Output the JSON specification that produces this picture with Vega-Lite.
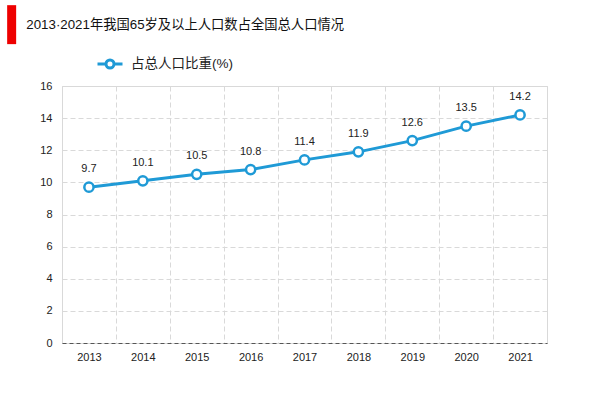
{
  "$schema": "https://vega.github.io/schema/vega-lite/v6.json",
  "width": 485,
  "height": 257,
  "autosize": {"type": "none"},
  "padding": {"left": 62, "top": 86, "right": 53, "bottom": 50},
  "background": "white",
  "config": {
    "font": "Liberation Sans, Noto Sans CJK SC",
    "view": {"stroke": "#d9d9d9", "strokeWidth": 1}
  },
  "datasets": {
    "main": [
      {"year": "2013", "v": 9.7, "series": "占总人口比重(%)"},
      {"year": "2014", "v": 10.1, "series": "占总人口比重(%)"},
      {"year": "2015", "v": 10.5, "series": "占总人口比重(%)"},
      {"year": "2016", "v": 10.8, "series": "占总人口比重(%)"},
      {"year": "2017", "v": 11.4, "series": "占总人口比重(%)"},
      {"year": "2018", "v": 11.9, "series": "占总人口比重(%)"},
      {"year": "2019", "v": 12.6, "series": "占总人口比重(%)"},
      {"year": "2020", "v": 13.5, "series": "占总人口比重(%)"},
      {"year": "2021", "v": 14.2, "series": "占总人口比重(%)"}
    ],
    "heading": [{"t": "2013·2021年我国65岁及以上人口数占全国总人口情况"}]
  },
  "layer": [
    {
      "data": {"name": "heading"},
      "mark": {"type": "point", "filled": true, "color": "#ee0000", "opacity": 0},
      "encoding": {
        "shape": {
          "field": "t",
          "type": "nominal",
          "scale": {"range": ["M-1,-4.33H1V4.33H-1Z"]},
          "legend": {
            "title": null,
            "orient": "none",
            "legendX": -57,
            "legendY": -68,
            "symbolSize": 81,
            "symbolFillColor": "#ee0000",
            "symbolStrokeColor": "#ee0000",
            "symbolStrokeWidth": 0,
            "symbolOpacity": 1,
            "labelOffset": 8,
            "labelFontSize": 13.3,
            "labelColor": "#111",
            "labelLimit": 500,
            "padding": 0,
            "encode": {
              "symbols": {
                "update": {
                  "fill": {"value": "#ee0000"},
                  "stroke": {"value": "#ee0000"},
                  "strokeWidth": {"value": 0},
                  "opacity": {"value": 1},
                  "fillOpacity": {"value": 1}
                }
              }
            }
          }
        }
      }
    },
    {
      "data": {"name": "main"},
      "encoding": {
        "x": {
          "field": "year",
          "type": "ordinal",
          "scale": {"paddingInner": 0, "paddingOuter": 0},
          "axis": {
            "title": null,
            "labelAngle": 0,
            "ticks": false,
            "tickBand": "extent",
            "labelPadding": 8,
            "labelFontSize": 11,
            "labelColor": "#222",
            "domainColor": "#555",
            "domainDash": [4, 3],
            "grid": true,
            "gridDash": [5, 3],
            "gridColor": "#d9d9d9"
          }
        },
        "y": {
          "field": "v",
          "type": "quantitative",
          "scale": {"domain": [0, 16], "nice": false},
          "axis": {
            "title": null,
            "values": [0, 2, 4, 6, 8, 10, 12, 14, 16],
            "tickCount": 12,
            "labelOverlap": false,
            "ticks": false,
            "domain": false,
            "labelPadding": 10,
            "labelFontSize": 11,
            "labelColor": "#222",
            "gridDash": [5, 3],
            "gridColor": "#d9d9d9"
          }
        }
      },
      "layer": [
        {
          "mark": {"type": "line", "color": "#1f9ad6", "strokeWidth": 3},
          "encoding": {
            "color": {
              "field": "series",
              "type": "nominal",
              "scale": {"range": ["#1f9ad6"]},
              "legend": {
                "title": null,
                "orient": "none",
                "legendX": 34,
                "legendY": -36,
                "symbolType": "M-1,0H-0.32M0.32,0H1M-0.32,0A0.32,0.32 0 1,1 0.32,0A0.32,0.32 0 1,1 -0.32,0Z",
                "symbolSize": 625,
                "symbolStrokeWidth": 3,
                "labelFontSize": 13.5,
                "labelColor": "#222",
                "labelOffset": 7,
                "padding": 0,
                "encode": {
                  "symbols": {
                    "update": {
                      "fill": {"value": "white"},
                      "stroke": {"value": "#1f9ad6"},
                      "strokeWidth": {"value": 3},
                      "opacity": {"value": 1}
                    }
                  }
                }
              }
            }
          }
        },
        {
          "mark": {"type": "point", "filled": true, "fill": "white", "stroke": "#1f9ad6", "strokeWidth": 2.5, "size": 85, "opacity": 1}
        },
        {
          "mark": {"type": "text", "dy": -18, "fontSize": 11, "color": "#222"},
          "encoding": {
            "text": {"field": "v", "type": "quantitative", "format": ".1f"}
          }
        }
      ]
    }
  ]
}
